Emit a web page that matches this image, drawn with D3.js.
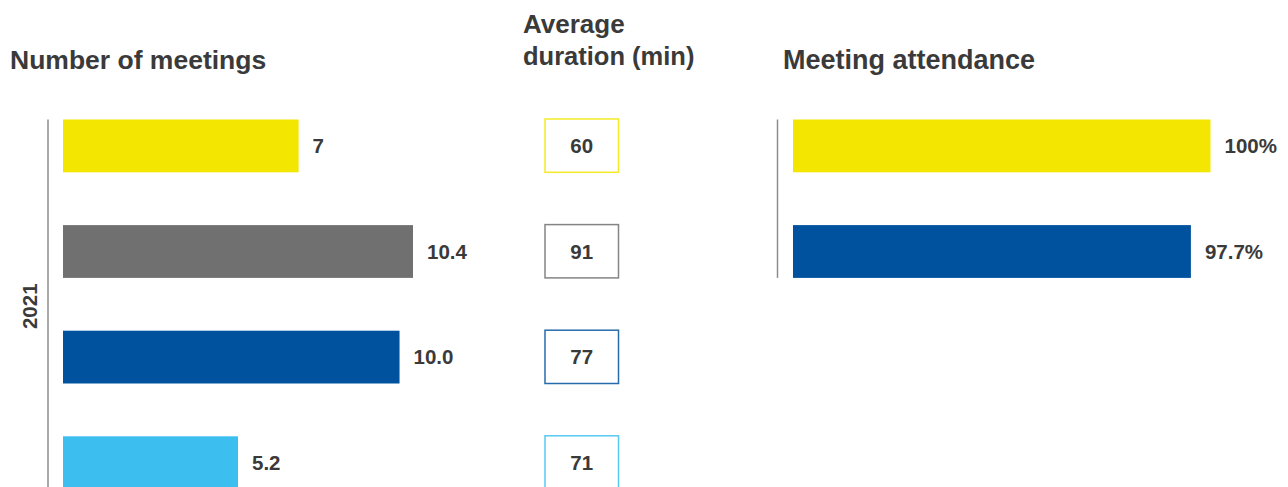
<!DOCTYPE html>
<html>
<head>
<meta charset="utf-8">
<script src="https://cdn.jsdelivr.net/npm/d3@7"></script>
<style>
  body { margin: 0; background: #fff; }
  svg { display: block; font-family: "Liberation Sans", Arial, sans-serif; }
</style>
</head>
<body>
<script>
// Chart values
const categories = ['s1', 's2', 's3', 's4']
const meetings = [7, 10.4, 10.0, 5.2]
const meetingLabels = ['7', '10.4', '10.0', '5.2']
const durations = [60, 91, 77, 71]
const attendanceCats = ['s1', 's3']
const attendance = [100, 97.7]
const attendanceLabels = ['100%', '97.7%']
const yearLabel = '2021'

const colors = {
  s1: '#f3e600',
  s2: '#707070',
  s3: '#00529f',
  s4: '#3cbfef'
}

const W = 1288
const H = 487
const TEXT = '#3a3a3a'
const AXIS = '#8c8c8c'

const svg = d3.select('body')
  .append('svg')
  .attr('width', W)
  .attr('height', H)
  .style('overflow', 'hidden')

// Bands share the same step in every panel
const step = 105.6
const bandTop = 119.5
const band = n => d3.scaleBand()
  .paddingInner(0.5)
  .paddingOuter(0)
  .range([bandTop, bandTop + step * (n - 0.5)])

const yLeft = band(categories.length).domain(categories)
const yRight = band(attendanceCats.length).domain(attendanceCats)

// Titles
const title = (x, y, txt, size = 26.5) => svg.append('text')
  .attr('x', x).attr('y', y)
  .attr('fill', TEXT)
  .attr('font-size', size)
  .attr('font-weight', 'bold')
  .text(txt)

title(10, 69, 'Number of meetings')
title(523, 33, 'Average', 26)
title(523, 65, 'duration (min)', 25.5)
title(783, 69, 'Meeting attendance', 27)

// --- Number of meetings
const x0 = 63
const xLeft = d3.scaleLinear().domain([0, 10.4]).range([0, 350])

svg.append('line')
  .attr('x1', 48).attr('x2', 48)
  .attr('y1', yLeft.range()[0]).attr('y2', yLeft.range()[1])
  .attr('stroke', AXIS).attr('stroke-width', 1.5)

svg.append('text')
  .attr('transform', `translate(37,${(yLeft.range()[0] + Math.min(yLeft.range()[1], H)) / 2 + 3}) rotate(-90)`)
  .attr('text-anchor', 'middle')
  .attr('fill', TEXT)
  .attr('font-size', 20.5)
  .attr('font-weight', 'bold')
  .text(yearLabel)

const left = svg.append('g')
categories.forEach((c, i) => {
  left.append('rect')
    .attr('x', x0)
    .attr('y', yLeft(c))
    .attr('width', xLeft(meetings[i]))
    .attr('height', yLeft.bandwidth())
    .attr('fill', colors[c])
  left.append('text')
    .attr('x', x0 + xLeft(meetings[i]) + 14)
    .attr('y', yLeft(c) + yLeft.bandwidth() / 2)
    .attr('dy', '0.36em')
    .attr('fill', TEXT)
    .attr('font-size', 20.5)
    .attr('font-weight', 'bold')
    .text(meetingLabels[i])
})

// --- Average duration boxes
const boxX = 545
const boxW = 73.5
const mid = svg.append('g')
categories.forEach((c, i) => {
  mid.append('rect')
    .attr('x', boxX)
    .attr('y', yLeft(c) - 0.5)
    .attr('width', boxW)
    .attr('height', yLeft.bandwidth() + 0.5)
    .attr('fill', 'none')
    .attr('stroke', colors[c])
    .attr('stroke-opacity', 0.85)
    .attr('stroke-width', 1.5)
  mid.append('text')
    .attr('x', boxX + boxW / 2)
    .attr('y', yLeft(c) + yLeft.bandwidth() / 2)
    .attr('dy', '0.36em')
    .attr('text-anchor', 'middle')
    .attr('fill', TEXT)
    .attr('font-size', 20.5)
    .attr('font-weight', 'bold')
    .text(durations[i])
})

// --- Meeting attendance
const x1 = 793
const xRight = d3.scaleLinear().domain([51, 100]).range([0, 417.5])

svg.append('line')
  .attr('x1', 777.5).attr('x2', 777.5)
  .attr('y1', yRight.range()[0]).attr('y2', yRight.range()[1])
  .attr('stroke', AXIS).attr('stroke-width', 1.5)

const right = svg.append('g')
attendanceCats.forEach((c, i) => {
  right.append('rect')
    .attr('x', x1)
    .attr('y', yRight(c))
    .attr('width', xRight(attendance[i]))
    .attr('height', yRight.bandwidth())
    .attr('fill', colors[c])
  right.append('text')
    .attr('x', x1 + xRight(attendance[i]) + 14)
    .attr('y', yRight(c) + yRight.bandwidth() / 2)
    .attr('dy', '0.36em')
    .attr('fill', TEXT)
    .attr('font-size', 20.5)
    .attr('font-weight', 'bold')
    .text(attendanceLabels[i])
})
</script>
</body>
</html>
